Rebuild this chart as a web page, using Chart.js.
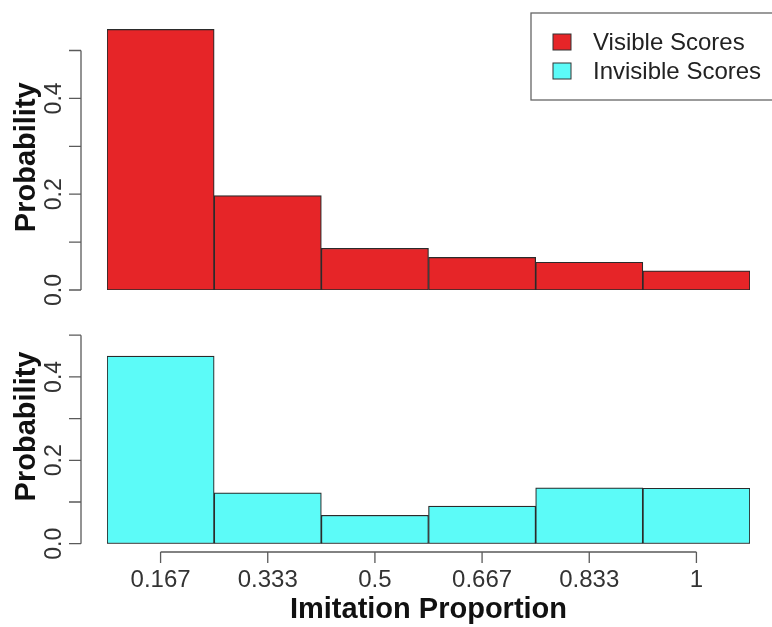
<!DOCTYPE html>
<html>
<head>
<meta charset="utf-8">
<script src="https://cdn.jsdelivr.net/npm/chart.js@4/dist/chart.umd.min.js"></script>
<style>
  body { margin: 0; background: #fff; }
  #wrap { position: relative; width: 772px; height: 627px; }
  canvas { position: absolute; left: 0; }
  #topChart { top: 0; }
  #bottomChart { top: 300px; }
</style>
</head>
<body>
<div id="wrap">
  <canvas id="topChart" width="772" height="320"></canvas>
  <canvas id="bottomChart" width="772" height="327"></canvas>
</div>
<script>
// bins (imitation proportion) and probabilities
const binLabels = ['0.167', '0.333', '0.5', '0.667', '0.833', '1']
const visibleProb = [0.544, 0.197, 0.087, 0.068, 0.058, 0.040]
const invisibleProb = [0.450, 0.122, 0.068, 0.090, 0.134, 0.133]
const yTicks = [0, 0.1, 0.2, 0.3, 0.4, 0.5]
const yTickLabels = ['0.0', '', '0.2', '', '0.4', '']
const seriesNames = ['Visible Scores', 'Invisible Scores']
const seriesColors = ['#e62528', '#5cfbf8']

const FONT = '"Liberation Sans", Arial, Helvetica, sans-serif'
const AXIS = '#5a5a5a'

// R style left axis: line only over the tick range, rotated labels
const rAxisY = {
  id: 'rAxisY',
  afterDraw(chart) {
    const ctx = chart.ctx
    const y = chart.scales.y
    const x0 = 81
    ctx.save()
    ctx.strokeStyle = AXIS
    ctx.lineWidth = 1.3
    ctx.beginPath()
    ctx.moveTo(x0, y.getPixelForValue(yTicks[0]))
    ctx.lineTo(x0, y.getPixelForValue(yTicks[yTicks.length - 1]))
    yTicks.forEach(v => {
      const py = y.getPixelForValue(v)
      ctx.moveTo(x0, py)
      ctx.lineTo(x0 - 12, py)
    })
    ctx.stroke()
    ctx.fillStyle = '#333'
    ctx.font = '23px ' + FONT
    ctx.textAlign = 'center'
    ctx.textBaseline = 'alphabetic'
    yTicks.forEach((v, i) => {
      if (!yTickLabels[i]) return
      ctx.save()
      ctx.translate(61, y.getPixelForValue(v))
      ctx.rotate(-Math.PI / 2)
      ctx.fillText(yTickLabels[i], 0, 0)
      ctx.restore()
    })
    // axis title
    ctx.fillStyle = '#111'
    ctx.font = 'bold 29px ' + FONT
    ctx.save()
    ctx.translate(35, (y.getPixelForValue(0) + y.getPixelForValue(0.5)) / 2 - 13)
    ctx.rotate(-Math.PI / 2)
    ctx.fillText('Probability', 0, 0)
    ctx.restore()
    ctx.restore()
  }
}

// bottom axis: line between first and last tick
const rAxisX = {
  id: 'rAxisX',
  afterDraw(chart) {
    if (!chart.options.plugins.rAxisX.show) return
    const ctx = chart.ctx
    const x = chart.scales.x
    const y0 = 252
    ctx.save()
    ctx.strokeStyle = AXIS
    ctx.lineWidth = 1.3
    ctx.beginPath()
    ctx.moveTo(x.getPixelForTick(0), y0)
    ctx.lineTo(x.getPixelForTick(binLabels.length - 1), y0)
    binLabels.forEach((_, i) => {
      const px = x.getPixelForTick(i)
      ctx.moveTo(px, y0)
      ctx.lineTo(px, y0 + 11)
    })
    ctx.stroke()
    ctx.fillStyle = '#333'
    ctx.font = '24px ' + FONT
    ctx.textAlign = 'center'
    ctx.textBaseline = 'middle'
    binLabels.forEach((lab, i) => {
      ctx.fillText(lab, x.getPixelForTick(i), 280)
    })
    ctx.fillStyle = '#111'
    ctx.font = 'bold 29px ' + FONT
    ctx.fillText('Imitation Proportion', (chart.chartArea.left + chart.chartArea.right) / 2, 310)
    ctx.restore()
  }
}

// boxed legend at top right
const boxLegend = {
  id: 'boxLegend',
  afterDraw(chart) {
    if (!chart.options.plugins.boxLegend.show) return
    const ctx = chart.ctx
    ctx.save()
    ctx.strokeStyle = '#666'
    ctx.lineWidth = 1.3
    ctx.strokeRect(531, 13, 260, 87)
    ctx.font = '24px ' + FONT
    ctx.textBaseline = 'middle'
    seriesNames.forEach((name, i) => {
      const cy = 42 + i * 29
      ctx.fillStyle = seriesColors[i]
      ctx.fillRect(553, cy - 8, 18, 16)
      ctx.strokeStyle = '#333'
      ctx.lineWidth = 1
      ctx.strokeRect(553, cy - 8, 18, 16)
      ctx.fillStyle = '#222'
      ctx.fillText(name, 593, cy + 1)
    })
    ctx.restore()
  }
}

function makeChart(id, values, color, yMax, padding, showX, showLegend) {
  return new Chart(id, {
    type: 'bar',
    data: {
      labels: binLabels,
      datasets: [{
        data: values,
        backgroundColor: color,
        borderColor: '#2b2b2b',
        borderWidth: 1.2,
        borderSkipped: false,
        barPercentage: 1,
        categoryPercentage: 1
      }]
    },
    options: {
      responsive: false,
      animation: false,
      layout: { padding: padding },
      plugins: {
        legend: { display: false },
        tooltip: { enabled: false },
        rAxisX: { show: showX },
        boxLegend: { show: showLegend }
      },
      scales: {
        x: { display: false },
        y: { display: false, min: 0, max: yMax }
      }
    },
    plugins: [rAxisY, rAxisX, boxLegend]
  })
}

// top: 0 -> y=290, 479 px per unit (canvas is 320 tall so the 0.0 label fits)
makeChart('topChart', visibleProb, seriesColors[0], 0.56,
  { left: 107, right: 22, top: 290 - 0.56 * 479, bottom: 30 }, false, true)
// bottom: 0 -> y=243.7 (canvas), 417 px per unit
makeChart('bottomChart', invisibleProb, seriesColors[1], 0.52,
  { left: 107, right: 22, top: 243.7 - 0.52 * 417, bottom: 327 - 243.7 }, true, false)
</script>
</body>
</html>
